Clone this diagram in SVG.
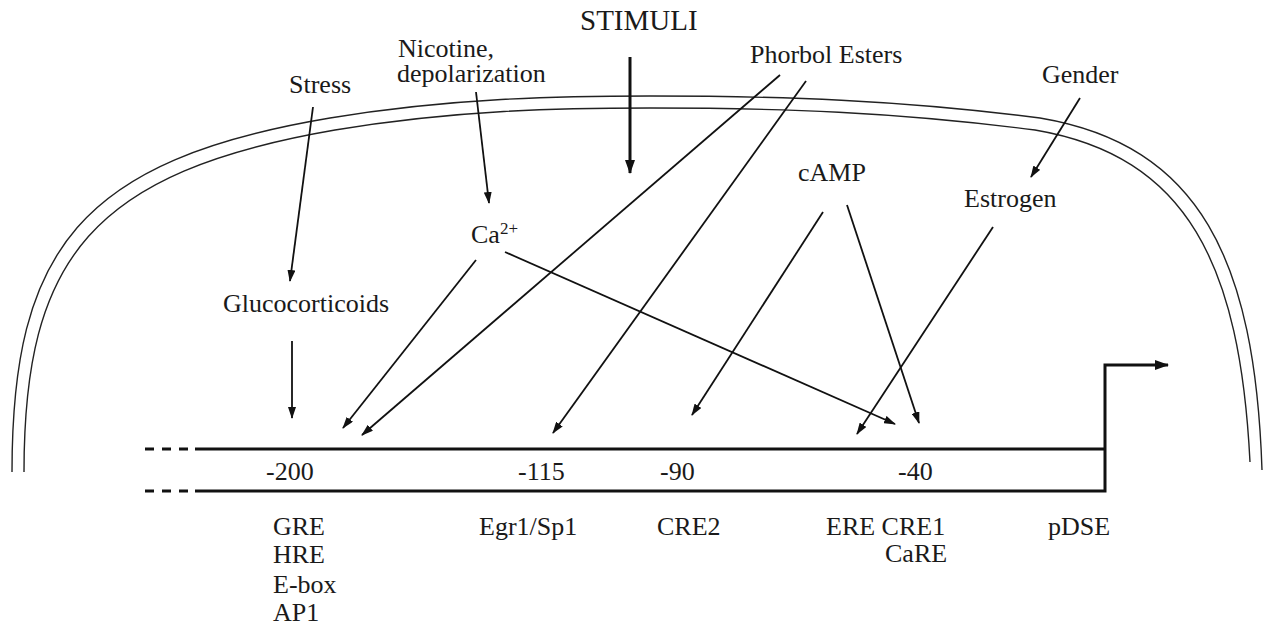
<svg xmlns="http://www.w3.org/2000/svg" width="1265" height="625" viewBox="0 0 1265 625">
<style>
  text { font-family: "Liberation Serif", "Times New Roman", serif; font-size: 26px; fill: #1a1a1a; }
  .big { font-size: 29px; }
  .sup { font-size: 17px; }
  .mem { fill: none; stroke: #222; stroke-width: 1.4; }
  .arr { fill: none; stroke: #111; stroke-width: 1.8; marker-end: url(#ah); }
  .thick { fill: none; stroke: #111; stroke-width: 3; }
</style>
<defs>
  <marker id="ah" markerUnits="userSpaceOnUse" markerWidth="12" markerHeight="8" refX="11" refY="4" orient="auto">
    <path d="M0,0 L12,4 L0,8 z" fill="#111"/>
  </marker>
  <marker id="ahb" markerUnits="userSpaceOnUse" markerWidth="14" markerHeight="10" refX="13" refY="5" orient="auto">
    <path d="M0,0 L14,5 L0,10 z" fill="#111"/>
  </marker>
</defs>
<rect width="1265" height="625" fill="#fff"/>

<g id="membrane">
  <path class="mem" d="M12,472 C12,250 80,160 330,118 C450,98 560,96 650,96 C780,96 900,100 1040,118 C1200,145 1255,260 1262,470"/>
  <path class="mem" d="M24,472 C24,258 92,172 335,130 C455,110 560,108 650,108 C780,108 895,112 1035,130 C1188,156 1240,265 1250,462"/>
</g>

<g id="dna">
  <line class="thick" x1="145" y1="449" x2="195" y2="449" stroke-dasharray="9 8"/>
  <line class="thick" x1="145" y1="491" x2="195" y2="491" stroke-dasharray="9 8"/>
  <line class="thick" x1="195" y1="449" x2="1105" y2="449"/>
  <path class="thick" d="M195,491 L1105,491 L1105,365 L1168,365" marker-end="url(#ahb)"/>
</g>

<g id="labels-top">
  <g id="n-stimuli"><text class="big" x="580" y="30">STIMULI</text></g>
  <g id="n-stress"><text x="289" y="93">Stress</text></g>
  <g id="n-gluco"><text x="223" y="312">Glucocorticoids</text></g>
  <g id="n-nicotine"><text x="398" y="57">Nicotine,</text><text x="397" y="82">depolarization</text></g>
  <g id="n-phorbol"><text x="750" y="63">Phorbol Esters</text></g>
  <g id="n-gender"><text x="1042" y="83">Gender</text></g>
  <g id="n-camp"><text x="798" y="181">cAMP</text></g>
  <g id="n-estrogen"><text x="964" y="207">Estrogen</text></g>
  <g id="n-ca"><text x="471" y="243">Ca<tspan class="sup" dy="-9">2+</tspan></text></g>
</g>

<g id="labels-dna">
  <g id="n-200"><text x="266" y="480">-200</text>
    <text x="273" y="535">GRE</text><text x="273" y="563">HRE</text><text x="273" y="593">E-box</text><text x="273" y="621">AP1</text></g>
  <g id="n-115"><text x="518" y="480">-115</text><text x="479" y="535">Egr1/Sp1</text></g>
  <g id="n-90"><text x="660" y="480">-90</text><text x="657" y="535">CRE2</text></g>
  <g id="n-40"><text x="898" y="480">-40</text><text x="826" y="535">ERE CRE1</text><text x="885" y="562">CaRE</text></g>
  <g id="n-pdse"><text x="1048" y="535">pDSE</text></g>
</g>

<g id="connectors">
  <line class="arr" x1="313" y1="107" x2="290" y2="281"/>
  <line class="arr" x1="292" y1="341" x2="292" y2="418"/>
  <line class="arr" x1="476" y1="92" x2="489" y2="203"/>
  <line class="thick" x1="630" y1="57" x2="630" y2="173" marker-end="url(#ahb)"/>
  <line class="arr" x1="780" y1="75" x2="362" y2="435"/>
  <line class="arr" x1="806" y1="81" x2="553" y2="433"/>
  <line class="arr" x1="476" y1="260" x2="343" y2="428"/>
  <line class="arr" x1="505" y1="252" x2="895" y2="424"/>
  <line class="arr" x1="823" y1="212" x2="692" y2="415"/>
  <line class="arr" x1="847" y1="205" x2="919" y2="423"/>
  <line class="arr" x1="993" y1="227" x2="857" y2="434"/>
  <line class="arr" x1="1080" y1="98" x2="1031" y2="177"/>
</g>
</svg>
